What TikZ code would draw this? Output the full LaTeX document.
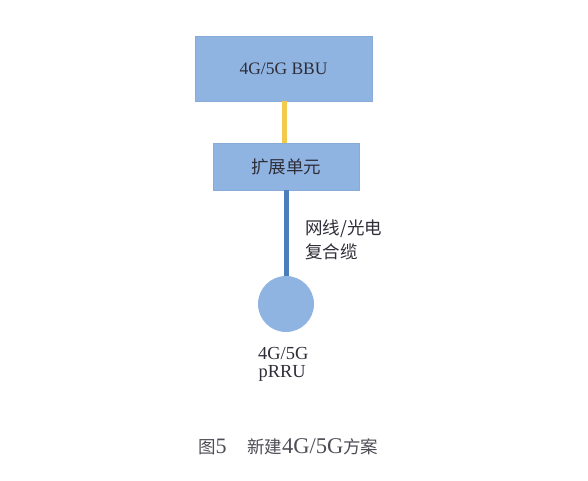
\documentclass[tikz,border=0pt]{standalone}
\usepackage{fontspec}
\setmainfont{Liberation Serif}
\newfontfamily\cjk{Noto Sans CJK SC}
\definecolor{boxblue}{HTML}{8FB4E2}
\definecolor{lineblue}{HTML}{4A7EBB}
\definecolor{lineyellow}{HTML}{F3C94E}
\definecolor{txt}{HTML}{2E2E38}
\tikzset{
  unitbox/.style={draw=boxblue!95!black, line width=0.4pt, fill=boxblue, inner sep=0pt, text=txt},
  rru/.style={circle, fill=boxblue, draw=none, minimum size=56pt, inner sep=0pt},
  lbl/.style={text=txt, inner sep=0pt, align=left},
  cable/.style={line width=5pt}
}
\begin{document}
\begin{tikzpicture}[x=1pt,y=-1pt]
\useasboundingbox (0,0) rectangle (588,481);
\fill[white] (0,0) rectangle (588,481);
\node[unitbox, minimum width=177pt, minimum height=65pt] (bbu) at (283.5,68.5) {\fontsize{17.5}{20}\selectfont 4G/5G BBU};
\node[unitbox, minimum width=146pt, minimum height=47pt] (ext) at (286,166.5) {\cjk\fontsize{17.5}{20}\selectfont 扩展单元};
\node[rru] (rru) at (286,304) {};
\draw[cable, lineyellow] (bbu.south -| 284,0) -- (ext.north -| 284,0);
\draw[cable, lineblue] (ext.south -| 286,0) -- (rru.north);
\node[lbl, anchor=west] (cab1) at (305,229) {\cjk\fontsize{17.5}{20}\selectfont 网线/光电};
\node[lbl, anchor=west] (cab2) at (305,252) {\cjk\fontsize{17.5}{20}\selectfont 复合缆};
\node[lbl, anchor=west] (r1) at (258,353) {\fontsize{18.4}{20}\selectfont 4G/5G};
\node[lbl, anchor=west] (r2) at (258.5,373) {\fontsize{18.4}{20}\selectfont pRRU};
\node[lbl, anchor=west, text=txt!85] (cap1) at (198,447) {{\cjk\fontsize{17.5}{20}\selectfont 图}\fontsize{22}{20}\selectfont 5};
\node[lbl, anchor=west, text=txt!85] (cap2) at (247,447) {{\cjk\fontsize{17.5}{20}\selectfont 新建}\fontsize{22.5}{20}\selectfont 4G/5G{\cjk\fontsize{17.5}{20}\selectfont 方案}};
\end{tikzpicture}
\end{document}
